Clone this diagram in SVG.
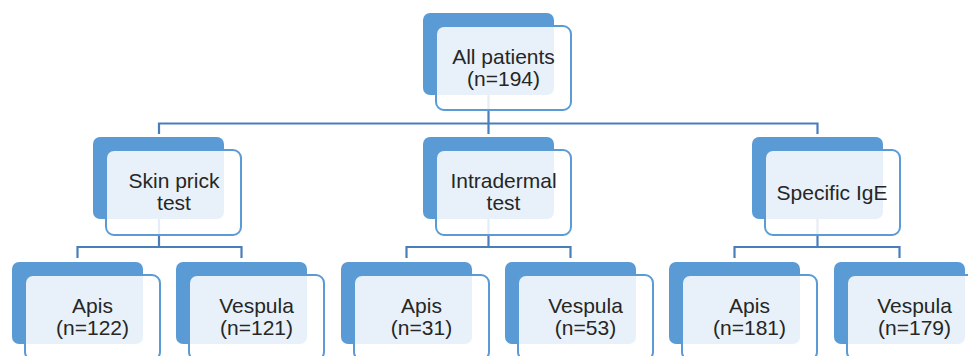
<svg xmlns="http://www.w3.org/2000/svg" width="968" height="356" viewBox="0 0 968 356">
<style>
.dk{fill:#5B9BD5;}
.lt{fill:#ffffff;fill-opacity:0.86;stroke:#5B9BD5;stroke-width:2;}
.cn{fill:none;stroke:#4A7EBB;stroke-width:2.2;}
text{font-family:"Liberation Sans",Arial,sans-serif;font-size:21px;fill:#262626;text-anchor:middle;}
</style>
<rect width="968" height="356" fill="#ffffff"/>
<g id="connectors">
<path class="cn" d="M488.5,95 V123.5 M159,134 V123.5 H817.5 V134 M488.5,123.5 V134"/>
<path class="cn" d="M159,219 V247 M77.5,258 V247 H241.5 V258"/>
<path class="cn" d="M488.5,219 V247 M406.5,258 V247 H570.5 V258"/>
<path class="cn" d="M817.5,219 V247 M734.5,258 V247 H899.5 V258"/>
</g>
<g id="all">
<rect class="dk" x="423" y="13" width="131" height="82" rx="7"/>
<rect class="lt" x="436" y="26" width="135" height="84" rx="8"/>
<text x="503.5" y="64">All patients</text>
<text x="503.5" y="86">(n=194)</text>
</g>
<g id="skin">
<rect class="dk" x="93" y="137" width="131" height="82" rx="7"/>
<rect class="lt" x="106" y="150" width="135" height="85" rx="8"/>
<text x="174" y="188">Skin prick</text>
<text x="174" y="210">test</text>
</g>
<g id="intra">
<rect class="dk" x="423" y="137" width="131" height="82" rx="7"/>
<rect class="lt" x="436" y="150" width="135" height="85" rx="8"/>
<text x="503.5" y="188">Intradermal</text>
<text x="503.5" y="210">test</text>
</g>
<g id="ige">
<rect class="dk" x="752" y="137" width="131" height="82" rx="7"/>
<rect class="lt" x="765" y="150" width="135" height="85" rx="8"/>
<text x="832" y="200">Specific IgE</text>
</g>
<g id="skin-apis">
<rect class="dk" x="12" y="262" width="131" height="82" rx="7"/>
<rect class="lt" x="25" y="275" width="135" height="85" rx="8"/>
<text x="92.5" y="313">Apis</text>
<text x="92.5" y="335">(n=122)</text>
</g>
<g id="skin-vespula">
<rect class="dk" x="176" y="262" width="131" height="82" rx="7"/>
<rect class="lt" x="189" y="275" width="135" height="85" rx="8"/>
<text x="256.5" y="313">Vespula</text>
<text x="256.5" y="335">(n=121)</text>
</g>
<g id="intra-apis">
<rect class="dk" x="341" y="262" width="131" height="82" rx="7"/>
<rect class="lt" x="354" y="275" width="135" height="85" rx="8"/>
<text x="421.5" y="313">Apis</text>
<text x="421.5" y="335">(n=31)</text>
</g>
<g id="intra-vespula">
<rect class="dk" x="505" y="262" width="131" height="82" rx="7"/>
<rect class="lt" x="518" y="275" width="135" height="85" rx="8"/>
<text x="585.5" y="313">Vespula</text>
<text x="585.5" y="335">(n=53)</text>
</g>
<g id="ige-apis">
<rect class="dk" x="669" y="262" width="131" height="82" rx="7"/>
<rect class="lt" x="682" y="275" width="135" height="85" rx="8"/>
<text x="749.5" y="313">Apis</text>
<text x="749.5" y="335">(n=181)</text>
</g>
<g id="ige-vespula">
<rect class="dk" x="834" y="262" width="131" height="82" rx="7"/>
<rect class="lt" x="847" y="275" width="135" height="85" rx="8"/>
<text x="914.5" y="313">Vespula</text>
<text x="914.5" y="335">(n=179)</text>
</g>
</svg>
